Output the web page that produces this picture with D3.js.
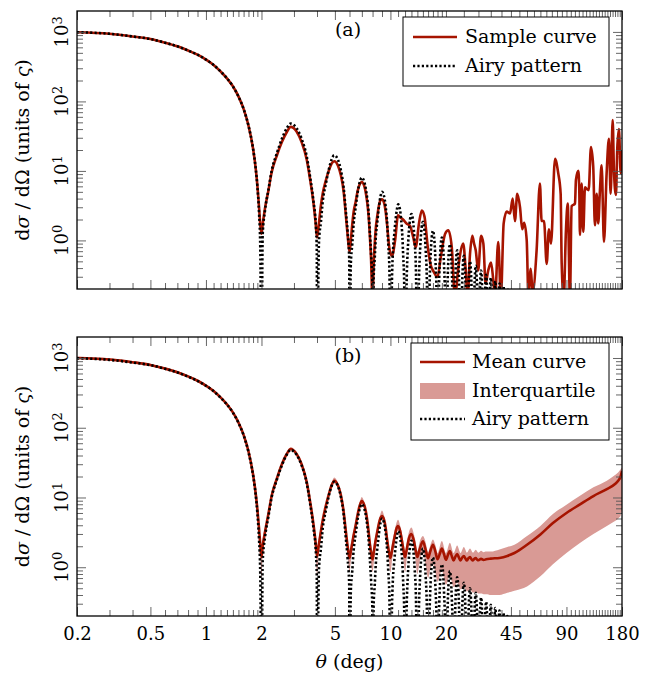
<!DOCTYPE html>
<meta charset="utf-8">
<style>
  body {
    margin: 0;
    background-color: white;
  }

  svg text {
    font-family: "DejaVu Serif", serif;
    fill: black;
  }
</style>

<body>
  <div id="chart"></div>
  <script src="https://d3js.org/d3.v7.min.js"></script>
  <script>

    // ---- data (theta in deg, cross-section in units of varsigma) ----
    var xMajorTicks = [0.2, 0.5, 1, 2, 5, 10, 20, 45, 90, 180];
    var xTickLabels = ["0.2", "0.5", "1", "2", "5", "10", "20", "45", "90", "180"];
    var xMinorTicks = [0.3, 0.4, 0.6, 0.7, 0.8, 0.9, 1.1, 1.2, 1.3, 1.4, 1.5, 1.6, 1.7, 1.8, 1.9,
      3, 4, 6, 7, 8, 9, 11, 12, 13, 14, 15, 16, 17, 18, 19,
      25, 30, 35, 40, 50, 55, 60, 65, 70, 75, 80, 85, 95, 100, 105, 110, 115, 120, 125, 130,
      135, 140, 145, 150, 155, 160, 165, 170, 175];
    var yMajorTicks = [1, 10, 100, 1000];
    var yTickExponents = ["0", "1", "2", "3"];
    var yMinorTicks = [0.3, 0.4, 0.5, 0.6, 0.7, 0.8, 0.9, 2, 3, 4, 5, 6, 7, 8, 9,
      20, 30, 40, 50, 60, 70, 80, 90, 200, 300, 400, 500, 600, 700, 800, 900];

    // Airy pattern (same in both panels)
    var airyCurve = [
      [0.2, 990], [0.3, 940], [0.4, 860], [0.5, 790], [0.6, 700], [0.7, 620], [0.8, 540], [0.9, 470],
      [1.0, 400], [1.1, 335], [1.2, 270], [1.3, 215], [1.4, 165], [1.5, 118], [1.6, 78], [1.7, 45],
      [1.8, 21], [1.86, 11], [1.9, 6], [1.94, 2.5], [1.97, 0.8],
      [2.0, 0.02], [2.03, 1.2], [2.09, 2.7], [2.18, 5.3], [2.27, 10], [2.42, 17.8], [2.58, 29], [2.74, 41],
      [2.88, 48], [3.1, 41], [3.3, 29], [3.52, 16], [3.67, 8.2], [3.82, 3.8], [3.95, 1.5], [3.99, 0.7],
      [4.0, 0.02], [4.1, 0.97], [4.2, 1.85], [4.3, 3.7], [4.46, 6.4], [4.63, 10.4], [4.8, 14.6], [4.96, 16.8],
      [5.19, 14.6], [5.38, 10.4], [5.58, 5.7], [5.71, 2.9], [5.86, 1.33], [5.98, 0.55],
      [6.0, 0.02], [6.1, 0.46], [6.21, 0.88], [6.32, 1.76], [6.48, 3.0], [6.65, 5.0], [6.83, 7.0], [6.99, 8.0],
      [7.21, 7.0], [7.4, 5.0], [7.6, 2.7], [7.73, 1.36], [7.86, 0.63], [7.98, 0.26],
      [8.0, 0.02], [8.11, 0.29], [8.22, 0.55], [8.33, 1.1], [8.5, 1.9], [8.67, 3.1], [8.84, 4.35], [9.0, 5.0],
      [9.23, 4.35], [9.42, 3.1], [9.61, 1.7], [9.74, 0.85], [9.87, 0.4],
      [10.0, 0.02], [10.22, 0.36], [10.33, 0.73], [10.5, 1.25], [10.68, 2.05], [10.86, 2.87], [11.01, 3.3],
      [11.24, 2.87], [11.42, 2.05], [11.61, 1.12], [11.74, 0.56], [11.87, 0.26],
      [12.0, 0.02], [12.28, 0.36], [12.5, 1.0], [12.76, 1.97], [13.0, 2.4], [13.26, 1.92], [13.53, 0.94], [13.74, 0.41],
      [14, 0.02], [14.28, 0.28], [14.5, 0.78], [14.76, 1.52], [15, 1.85], [15.26, 1.48], [15.53, 0.72], [15.74, 0.31],
      [16, 0.02], [16.28, 0.21], [16.5, 0.58], [16.76, 1.13], [17, 1.38], [17.26, 1.1], [17.53, 0.54], [17.74, 0.23],
      [18, 0.02], [18.28, 0.17], [18.5, 0.46], [18.76, 0.9], [19, 1.1], [19.26, 0.88], [19.53, 0.43], [19.74, 0.19],
      [20, 0.02], [20.5, 0.37], [20.76, 0.72], [21, 0.88], [21.26, 0.7], [21.53, 0.34], [21.74, 0.15],
      [22, 0.02], [22.5, 0.3], [22.76, 0.59], [23, 0.72], [23.26, 0.58], [23.53, 0.28],
      [24, 0.02], [24.5, 0.25], [24.76, 0.49], [25, 0.6], [25.26, 0.48], [25.53, 0.23],
      [26, 0.02], [26.5, 0.21], [26.76, 0.41], [27, 0.5], [27.26, 0.4], [27.53, 0.2],
      [28, 0.02], [28.5, 0.18], [28.76, 0.35], [29, 0.43], [29.26, 0.34], [29.53, 0.17],
      [30, 0.02], [30.76, 0.3], [31, 0.37], [31.26, 0.3],
      [32, 0.02], [32.76, 0.26], [33, 0.32], [33.26, 0.26],
      [34, 0.02], [34.76, 0.24], [35, 0.29], [35.26, 0.23],
      [36, 0.02], [36.76, 0.21], [37, 0.26], [37.26, 0.21],
      [38, 0.02], [38.76, 0.2], [39, 0.24], [39.26, 0.19],
      [40, 0.02], [40.76, 0.18], [41, 0.22], [41.26, 0.18],
      [42, 0.02], [43, 0.2], [44, 0.02]
    ];

    // panel (a): one sample curve
    var sampleCurve = [
      [0.2, 990], [0.3, 940], [0.4, 860], [0.5, 790], [0.6, 700], [0.7, 620], [0.8, 540], [0.9, 470],
      [1.0, 400], [1.1, 335], [1.2, 270], [1.3, 215], [1.4, 165], [1.5, 118], [1.6, 78], [1.7, 45],
      [1.8, 21], [1.86, 11], [1.9, 6.2], [1.94, 3.0], [1.97, 1.7], [2.0, 1.25], [2.03, 1.7], [2.09, 2.9],
      [2.18, 5.2], [2.27, 9.5], [2.42, 16.5], [2.58, 26], [2.74, 36], [2.88, 43], [3.1, 37], [3.3, 26],
      [3.52, 14.5], [3.67, 7.5], [3.82, 3.6], [3.93, 1.8], [4.0, 1.1], [4.08, 1.6], [4.2, 3.2], [4.3, 4.8],
      [4.46, 7.2], [4.63, 10], [4.8, 12.8], [4.96, 13.8], [5.19, 12], [5.38, 8.8], [5.58, 5], [5.71, 2.6],
      [5.86, 1.2], [6.0, 0.68], [6.1, 1.0], [6.21, 1.7], [6.32, 2.6], [6.48, 3.6], [6.65, 5.2], [6.83, 6.5],
      [6.99, 6.9], [7.21, 6.1], [7.4, 4.4], [7.6, 2.4], [7.73, 1.2], [7.86, 0.5], [8.0, 0.12], [8.11, 0.45],
      [8.22, 0.9], [8.33, 1.5], [8.5, 2.3], [8.67, 3.2], [8.84, 3.8], [9.0, 3.9], [9.23, 3.5], [9.42, 2.6],
      [9.61, 1.6], [9.8, 0.9], [10.0, 0.65], [10.2, 0.6], [10.6, 1.0], [11.0, 2.3], [11.4, 2.1], [11.7, 2.0],
      [12.2, 1.76], [12.8, 1.6], [13.3, 1.1], [13.7, 0.8], [14.3, 1.8], [14.8, 2.7], [15.3, 2.2], [15.9, 0.85],
      [16.5, 0.45], [17.2, 0.35], [18.0, 0.3], [18.8, 0.6], [19.8, 1.25], [20.6, 1.4], [21.5, 0.8], [22.4, 0.15],
      [23.2, 0.35], [23.8, 0.6], [24.8, 0.9], [25.6, 0.37], [26.2, 0.15], [27.0, 0.64], [27.8, 1.17], [28.4, 0.9],
      [29.0, 0.72], [29.9, 0.37], [31.0, 1.17], [31.9, 0.9], [32.8, 0.24], [33.9, 0.37], [35.1, 0.48], [36.1, 0.27],
      [36.9, 0.15], [38.4, 0.95], [39.7, 0.15], [41.1, 1.76], [42.7, 2.6], [44.5, 2.45], [46.0, 4.0], [47.3, 1.9],
      [48.7, 4.7], [50.4, 3.0], [51.8, 1.45], [53.1, 1.8], [54.8, 1.0], [56, 0.15], [57.6, 0.39], [59, 0.18],
      [62.0, 0.72], [64.6, 6.6], [66.0, 1.9], [68, 1.9], [70.3, 0.46], [72.3, 1.45], [74.2, 0.9], [78.0, 15],
      [81.2, 9.3], [83.7, 4.7], [84.8, 0.46], [87, 0.15], [89.4, 1.38], [91.4, 3.4], [94.0, 0.15], [96.0, 3.1],
      [100.1, 3.4], [101.3, 7.4], [104.3, 10], [105.6, 5.3], [106.5, 1.2], [108.8, 6.6], [111.0, 1.33], [113.4, 5.8],
      [116, 5.5], [118.7, 5.3], [122.2, 22], [125.7, 11.5], [128.4, 1.65], [131.2, 4.7], [133.8, 1.76], [136.7, 5.3],
      [139.6, 12], [143.7, 0.95], [148.6, 9.3], [152.9, 29], [156.2, 4.7], [160.2, 54], [162.8, 10], [166.9, 4.5],
      [169.7, 21], [173.3, 40], [177, 9.3], [180, 20]
    ];

    // panel (b): mean of the samples
    var meanCurve = [
      [0.2, 1000], [0.3, 950], [0.4, 870], [0.5, 795], [0.6, 705], [0.7, 625], [0.8, 545], [0.9, 472],
      [1.0, 402], [1.1, 336], [1.2, 272], [1.3, 216], [1.4, 166], [1.5, 119], [1.6, 79], [1.7, 46],
      [1.8, 21.5], [1.86, 11.5], [1.9, 6.8], [1.94, 3.6], [1.97, 2.1], [2.0, 1.4], [2.03, 2.0], [2.09, 3.2],
      [2.18, 5.8], [2.27, 10.5], [2.42, 18.5], [2.58, 30], [2.74, 42], [2.88, 49.5], [3.1, 42], [3.3, 30],
      [3.52, 16.5], [3.67, 8.7], [3.82, 4.3], [3.93, 2.3], [4.0, 1.43], [4.08, 2.0], [4.2, 3.3], [4.3, 4.8],
      [4.46, 7.5], [4.63, 11], [4.8, 15], [4.96, 17.4], [5.19, 15], [5.38, 11], [5.58, 6.2], [5.71, 3.6],
      [5.86, 2.0], [6.0, 1.36], [6.1, 1.7], [6.21, 2.2], [6.32, 2.9], [6.48, 4.0], [6.65, 5.8], [6.83, 7.8],
      [6.99, 8.9], [7.21, 7.8], [7.4, 5.8], [7.6, 3.4], [7.73, 2.2], [7.86, 1.6], [8.0, 1.3], [8.11, 1.6],
      [8.22, 2.0], [8.33, 2.5], [8.5, 3.3], [8.67, 4.3], [8.84, 5.1], [9.0, 5.4], [9.23, 4.8], [9.42, 3.7],
      [9.61, 2.4], [9.8, 1.7], [10.0, 1.36], [10.22, 1.8], [10.5, 2.6], [10.75, 3.5], [11.0, 3.9], [11.3, 3.3],
      [11.6, 2.2], [11.8, 1.7], [12.0, 1.4], [12.3, 1.9], [12.6, 2.6], [13.0, 3.0], [13.35, 2.5], [13.7, 1.75],
      [14.0, 1.4], [14.4, 1.8], [15.0, 2.35], [15.5, 1.8], [16.0, 1.35], [16.4, 1.65], [17.0, 2.1], [17.5, 1.7],
      [18.0, 1.3], [18.5, 1.55], [19.0, 1.85], [19.5, 1.55], [20.0, 1.28], [20.5, 1.5], [21.0, 1.7], [21.5, 1.45],
      [22.0, 1.25], [22.5, 1.42], [23.0, 1.55], [23.5, 1.38], [24.0, 1.25], [24.5, 1.38], [25.0, 1.45], [25.5, 1.33],
      [26.0, 1.25], [26.5, 1.35], [27.0, 1.4], [27.5, 1.3], [28.0, 1.25], [28.5, 1.32], [29.0, 1.35], [29.5, 1.29],
      [30.0, 1.26], [31.0, 1.32], [32.0, 1.27], [33.0, 1.3], [35.0, 1.33], [39.0, 1.36], [43, 1.45], [47.0, 1.6],
      [55.0, 2.1], [65.0, 2.95], [76.0, 4.3], [90.0, 6.0], [106.0, 7.9], [126.0, 10.5], [149.0, 13.2], [165.0, 15.6],
      [172, 17.5], [177, 20], [180, 24]
    ];

    // panel (b): interquartile band [theta, q1, q3]
    var quartiles = [
      [0.2, 960, 1040], [0.3, 912, 988], [0.4, 835, 905], [0.5, 763, 827], [0.6, 677, 733], [0.7, 600, 650],
      [0.8, 523, 567], [0.9, 453, 491], [1.0, 386, 418], [1.1, 322, 350], [1.2, 261, 283], [1.3, 207, 225],
      [1.4, 159, 173], [1.5, 114, 124], [1.6, 75, 83], [1.7, 44, 48.5], [1.8, 20.5, 22.8], [1.86, 10.8, 12.3],
      [1.9, 6.2, 7.4], [1.94, 3.1, 4.1], [1.97, 1.6, 2.6], [2.0, 0.7, 1.7], [2.03, 1.5, 2.5], [2.09, 2.8, 3.7],
      [2.18, 5.3, 6.3], [2.27, 9.8, 11.3], [2.42, 17.5, 19.8], [2.58, 28.5, 31.8], [2.74, 40, 44.5], [2.88, 47, 52.5],
      [3.1, 40, 44.5], [3.3, 28.5, 31.8], [3.52, 15.5, 17.6], [3.67, 8.0, 9.4], [3.82, 3.8, 4.9], [3.93, 1.8, 2.8],
      [4.0, 0.78, 1.7], [4.08, 1.5, 2.5], [4.2, 2.8, 3.8], [4.3, 4.3, 5.3], [4.46, 6.9, 8.2], [4.63, 10.2, 12],
      [4.8, 14, 16.3], [4.96, 16.2, 19.4], [5.19, 14, 16.3], [5.38, 10.2, 12], [5.58, 5.6, 6.9], [5.71, 3.1, 4.2],
      [5.86, 1.5, 2.5], [6.0, 0.85, 1.65], [6.1, 1.2, 2.2], [6.21, 1.7, 2.7], [6.32, 2.4, 3.4], [6.48, 3.5, 4.6],
      [6.65, 5.2, 6.5], [6.83, 7.1, 8.7], [6.99, 8.1, 10.2], [7.21, 7.1, 8.7], [7.4, 5.2, 6.5], [7.6, 2.9, 4.0],
      [7.73, 1.7, 2.7], [7.86, 1.1, 2.1], [8.0, 0.85, 1.65], [8.11, 1.1, 2.1], [8.22, 1.5, 2.5], [8.33, 2.0, 3.0],
      [8.5, 2.8, 3.8], [8.67, 3.8, 4.9], [8.84, 4.6, 5.9], [9.0, 4.9, 6.5], [9.23, 4.3, 5.5], [9.42, 3.2, 4.3],
      [9.61, 1.9, 3.0], [9.8, 1.2, 2.2], [10.0, 0.85, 1.65], [10.22, 1.3, 2.3], [10.5, 2.1, 3.2], [10.75, 3.0, 4.2],
      [11.0, 3.3, 4.8], [11.3, 2.8, 3.9], [11.6, 1.7, 2.8], [11.8, 1.2, 2.2], [12.0, 0.85, 1.65], [12.3, 1.4, 2.4],
      [12.6, 2.1, 3.2], [13.0, 2.4, 3.7], [13.35, 2.0, 3.1], [13.7, 1.2, 2.3], [14.0, 0.8, 1.7], [14.4, 1.2, 2.3],
      [15.0, 1.6, 2.8], [15.5, 1.1, 2.3], [16.0, 0.7, 1.65], [16.4, 0.9, 2.0], [17.0, 1.1, 2.5], [17.5, 0.85, 2.1],
      [18.0, 0.62, 1.6], [19.0, 0.9, 2.37], [20.0, 0.56, 1.6], [21.0, 0.75, 2.24], [22.0, 0.52, 1.6], [23.0, 0.6, 2.05],
      [24.0, 0.48, 1.6], [25.0, 0.52, 1.95], [26.0, 0.45, 1.62], [27.0, 0.47, 1.85], [28.0, 0.43, 1.62],
      [29.0, 0.44, 1.78], [30.0, 0.42, 1.62], [31.0, 0.42, 1.72], [32.0, 0.41, 1.64], [33.0, 0.41, 1.68],
      [35.0, 0.4, 1.68], [39.0, 0.4, 1.8], [43, 0.43, 1.95], [47.0, 0.46, 2.1], [55.0, 0.53, 2.8], [65.0, 0.74, 3.9],
      [76.0, 1.1, 5.8], [90.0, 1.6, 7.9], [106.0, 2.2, 10.5], [126.0, 3.0, 14], [149.0, 3.9, 17.4], [165.0, 4.6, 21],
      [172, 5.0, 23], [177, 5.5, 25.5], [180, 6.5, 27]
    ];

    // ---- layout ----
    var red = "#a61400";
    var pink = "#d99a95";
    var width = 650, height = 675;
    var left = 77, right = 622;

    var svg = d3.select("#chart")
      .append("svg")
      .attr("width", width)
      .attr("height", height);

    var x = d3.scaleLog().domain([0.2, 180]).range([left, right]);

    var panels = [
      { id: "a", top: 11, bottom: 289 },
      { id: "b", top: 337, bottom: 616 }
    ];

    panels.forEach(function (p) {
      p.y = d3.scaleLog().domain([0.2, 2000]).range([p.bottom, p.top]);
    });

    // draws the ticks (inside), frame and y labels of one panel
    function drawAxes(p, showXLabels) {
      var g = svg.append("g");
      var y = p.y;

      function tidy(sel) {
        sel.select(".domain").remove();
        sel.selectAll(".tick line").attr("stroke", "#555").attr("stroke-width", 0.9);
        sel.attr("font-family", null).attr("font-size", null);
      }

      // bottom
      g.append("g").attr("transform", "translate(0," + p.bottom + ")")
        .call(d3.axisBottom(x).tickValues(xMajorTicks).tickSize(-9).tickPadding(11)
          .tickFormat(function (d, i) { return showXLabels ? xTickLabels[i] : ""; }))
        .call(tidy)
        .selectAll("text").attr("font-size", 18);
      g.append("g").attr("transform", "translate(0," + p.bottom + ")")
        .call(d3.axisBottom(x).tickValues(xMinorTicks).tickSize(-6).tickFormat(""))
        .call(tidy);
      // top
      g.append("g").attr("transform", "translate(0," + p.top + ")")
        .call(d3.axisTop(x).tickValues(xMajorTicks).tickSize(-9).tickFormat(""))
        .call(tidy);
      g.append("g").attr("transform", "translate(0," + p.top + ")")
        .call(d3.axisTop(x).tickValues(xMinorTicks).tickSize(-6).tickFormat(""))
        .call(tidy);
      // left
      g.append("g").attr("transform", "translate(" + left + ",0)")
        .call(d3.axisLeft(y).tickValues(yMajorTicks).tickSize(-9).tickFormat(""))
        .call(tidy);
      g.append("g").attr("transform", "translate(" + left + ",0)")
        .call(d3.axisLeft(y).tickValues(yMinorTicks).tickSize(-6).tickFormat(""))
        .call(tidy);
      // right
      g.append("g").attr("transform", "translate(" + right + ",0)")
        .call(d3.axisRight(y).tickValues(yMajorTicks).tickSize(-9).tickFormat(""))
        .call(tidy);
      g.append("g").attr("transform", "translate(" + right + ",0)")
        .call(d3.axisRight(y).tickValues(yMinorTicks).tickSize(-6).tickFormat(""))
        .call(tidy);

      // rotated 10^n labels
      yMajorTicks.forEach(function (v, i) {
        var t = g.append("text")
          .attr("transform", "translate(68," + y(v) + ") rotate(-90)")
          .attr("text-anchor", "middle")
          .attr("font-size", 18);
        t.append("tspan").text("10");
        t.append("tspan").attr("dy", "-0.45em").attr("font-size", 13).text(yTickExponents[i]);
      });

      // y axis title
      var yt = g.append("text")
        .attr("transform", "translate(29," + ((p.top + p.bottom) / 2) + ") rotate(-90)")
        .attr("text-anchor", "middle")
        .attr("font-size", 19);
      yt.append("tspan").text("d");
      yt.append("tspan").attr("font-style", "italic").text("σ");
      yt.append("tspan").text(" / d\u03A9 (units of ");
      yt.append("tspan").attr("font-style", "italic").text("ς");
      yt.append("tspan").text(")");

      // panel letter
      g.append("text")
        .attr("x", 348)
        .attr("y", p.top + 25)
        .attr("text-anchor", "middle")
        .attr("font-size", 19)
        .text("(" + p.id + ")");
    }

    function clipFor(p) {
      svg.append("clipPath").attr("id", "clip-" + p.id)
        .append("rect")
        .attr("x", left).attr("y", p.top)
        .attr("width", right - left).attr("height", p.bottom - p.top);
      return "url(#clip-" + p.id + ")";
    }

    function lineFor(y) {
      return d3.line()
        .x(function (d) { return x(d[0]); })
        .y(function (d) { return y(d[1]); })
        .curve(d3.curveMonotoneX);
    }

    // ---- panel (a) ----
    var pa = panels[0];
    var ga = svg.append("g").attr("clip-path", clipFor(pa));
    ga.append("path")
      .datum(sampleCurve)
      .attr("d", lineFor(pa.y))
      .attr("fill", "none")
      .attr("stroke", red)
      .attr("stroke-width", 2.6)
      .attr("stroke-linejoin", "round");
    ga.append("path")
      .datum(airyCurve)
      .attr("d", lineFor(pa.y))
      .attr("fill", "none")
      .attr("stroke", "black")
      .attr("stroke-width", 2.6)
      .attr("stroke-dasharray", "2.2,2.2");
    drawAxes(pa, false);

    // ---- panel (b) ----
    var pb = panels[1];
    var gb = svg.append("g").attr("clip-path", clipFor(pb));
    gb.append("path")
      .datum(quartiles)
      .attr("d", d3.area()
        .x(function (d) { return x(d[0]); })
        .y0(function (d) { return pb.y(d[1]); })
        .y1(function (d) { return pb.y(d[2]); })
        .curve(d3.curveMonotoneX))
      .attr("fill", pink);
    gb.append("path")
      .datum(meanCurve)
      .attr("d", lineFor(pb.y))
      .attr("fill", "none")
      .attr("stroke", red)
      .attr("stroke-width", 2.6)
      .attr("stroke-linejoin", "round");
    gb.append("path")
      .datum(airyCurve)
      .attr("d", lineFor(pb.y))
      .attr("fill", "none")
      .attr("stroke", "black")
      .attr("stroke-width", 2.6)
      .attr("stroke-dasharray", "2.2,2.2");
    drawAxes(pb, true);

    // frames
    panels.forEach(function (p) {
      svg.append("rect")
        .attr("x", left).attr("y", p.top)
        .attr("width", right - left).attr("height", p.bottom - p.top)
        .attr("fill", "none")
        .attr("stroke", "black")
        .attr("stroke-width", 1.3);
    });

    // x axis title
    var xt = svg.append("text")
      .attr("x", (left + right) / 2)
      .attr("y", 668)
      .attr("text-anchor", "middle")
      .attr("font-size", 19);
    xt.append("tspan").attr("font-style", "italic").text("θ");
    xt.append("tspan").text(" (deg)");

    // ---- legends ----
    function legendBox(x0, y0, w, h) {
      svg.append("rect")
        .attr("x", x0).attr("y", y0).attr("width", w).attr("height", h)
        .attr("fill", "white").attr("stroke", "black").attr("stroke-width", 1);
    }
    function legendText(x0, y0, s) {
      svg.append("text").attr("x", x0).attr("y", y0).attr("font-size", 19).text(s);
    }

    legendBox(403, 17, 206, 69);
    svg.append("line").attr("x1", 413).attr("x2", 457).attr("y1", 37).attr("y2", 37)
      .attr("stroke", red).attr("stroke-width", 2.6);
    legendText(465, 43, "Sample curve");
    svg.append("line").attr("x1", 413).attr("x2", 457).attr("y1", 66).attr("y2", 66)
      .attr("stroke", "black").attr("stroke-width", 2.6).attr("stroke-dasharray", "2.2,2.2");
    legendText(465, 72, "Airy pattern");

    legendBox(411, 343, 198, 97);
    svg.append("line").attr("x1", 420).attr("x2", 465).attr("y1", 362).attr("y2", 362)
      .attr("stroke", red).attr("stroke-width", 2.6);
    legendText(472, 368, "Mean curve");
    svg.append("rect").attr("x", 420).attr("y", 383).attr("width", 45).attr("height", 16)
      .attr("fill", pink);
    legendText(472, 397, "Interquartile");
    svg.append("line").attr("x1", 420).attr("x2", 465).attr("y1", 419).attr("y2", 419)
      .attr("stroke", "black").attr("stroke-width", 2.6).attr("stroke-dasharray", "2.2,2.2");
    legendText(472, 425, "Airy pattern");

  </script>
</body>
